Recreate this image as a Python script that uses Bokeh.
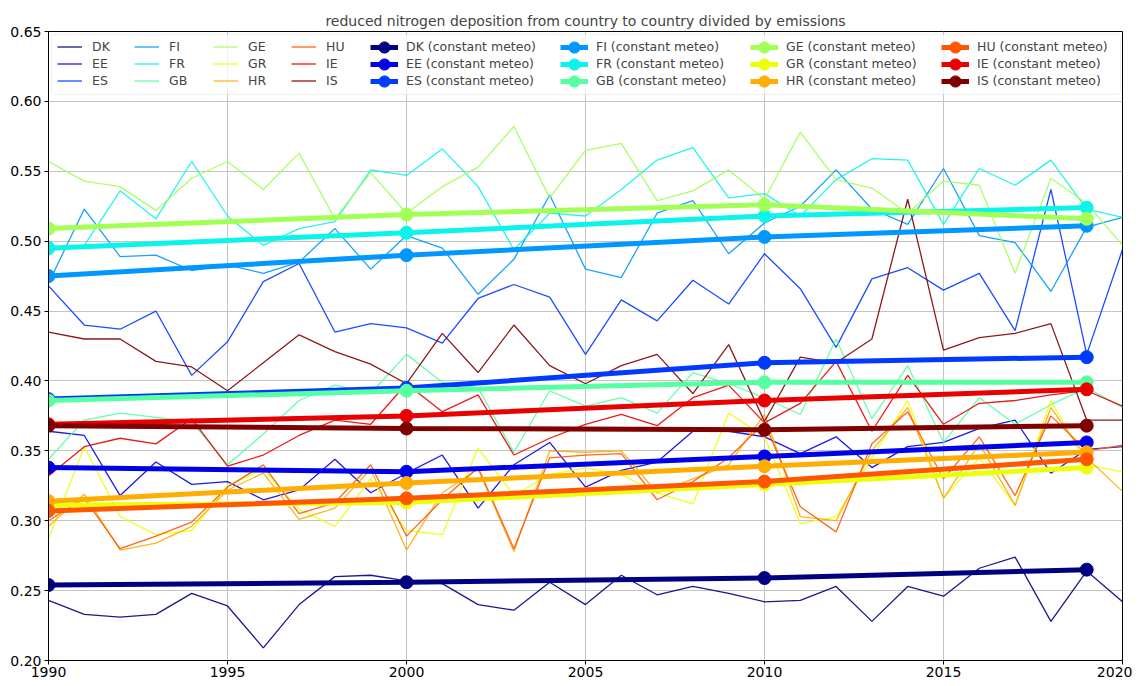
from bokeh.plotting import figure
from bokeh.models import (Legend, LegendItem, FixedTicker, PrintfTickFormatter,
                          BoxAnnotation, Range1d)
from bokeh.embed import file_html
from bokeh.resources import INLINE

years = list(range(1990, 2021))
const_years = [1990, 2000, 2010, 2019]
countries = ["DK", "EE", "ES", "FI", "FR", "GB", "GE", "GR", "HR", "HU", "IE", "IS"]
colors = ["#000080", "#0000e9", "#003aff", "#0097ff", "#0bf4eb", "#56ffa1",
          "#a1ff56", "#ebff0b", "#ffad00", "#ff5700", "#e90000", "#800000"]

DK = [0.243, 0.233, 0.231, 0.233, 0.248, 0.239, 0.209, 0.240, 0.260, 0.261, 0.257, 0.255, 0.240, 0.236, 0.256, 0.240,
      0.261, 0.247, 0.253, 0.248, 0.242, 0.243, 0.253, 0.228, 0.253, 0.246, 0.266, 0.274, 0.228, 0.264, 0.242]
EE = [0.364, 0.361, 0.318, 0.342, 0.326, 0.328, 0.315, 0.322, 0.344, 0.320, 0.334, 0.347, 0.309, 0.340, 0.356, 0.324,
      0.336, 0.342, 0.364, 0.364, 0.360, 0.348, 0.360, 0.338, 0.353, 0.356, 0.366, 0.372, 0.334, 0.351, 0.353]
ES = [0.468, 0.440, 0.437, 0.450, 0.404, 0.428, 0.471, 0.484, 0.435, 0.441, 0.438, 0.427, 0.459, 0.469, 0.460, 0.419,
      0.458, 0.443, 0.472, 0.455, 0.491, 0.466, 0.424, 0.473, 0.481, 0.465, 0.477, 0.436, 0.537, 0.419, 0.494]
FI = [0.470, 0.523, 0.489, 0.490, 0.479, 0.483, 0.477, 0.485, 0.509, 0.480, 0.504, 0.495, 0.462, 0.487, 0.533, 0.480,
      0.474, 0.520, 0.529, 0.491, 0.513, 0.525, 0.551, 0.523, 0.512, 0.552, 0.504, 0.499, 0.464, 0.510, 0.517]
FR = [0.495, 0.497, 0.536, 0.516, 0.557, 0.518, 0.497, 0.509, 0.514, 0.551, 0.547, 0.566, 0.539, 0.494, 0.520, 0.518,
      0.537, 0.558, 0.567, 0.531, 0.534, 0.518, 0.544, 0.559, 0.558, 0.512, 0.552, 0.540, 0.558, 0.523, 0.517]
GB = [0.344, 0.372, 0.377, 0.374, 0.371, 0.340, 0.362, 0.386, 0.397, 0.391, 0.419, 0.399, 0.395, 0.349, 0.393, 0.382,
      0.388, 0.377, 0.406, 0.398, 0.388, 0.376, 0.430, 0.373, 0.411, 0.356, 0.388, 0.369, 0.383, 0.395, 0.381]
GE = [0.557, 0.543, 0.539, 0.522, 0.545, 0.557, 0.537, 0.563, 0.516, 0.549, 0.520, 0.539, 0.553, 0.582, 0.531, 0.565,
      0.570, 0.529, 0.536, 0.551, 0.530, 0.578, 0.544, 0.538, 0.520, 0.543, 0.540, 0.477, 0.545, 0.527, 0.497]
GR = [0.287, 0.353, 0.303, 0.290, 0.293, 0.325, 0.337, 0.308, 0.296, 0.330, 0.293, 0.290, 0.352, 0.318, 0.333, 0.338,
      0.333, 0.320, 0.312, 0.377, 0.360, 0.298, 0.303, 0.345, 0.386, 0.316, 0.345, 0.311, 0.386, 0.340, 0.335]
HR = [0.296, 0.319, 0.279, 0.284, 0.296, 0.322, 0.334, 0.301, 0.309, 0.337, 0.279, 0.320, 0.337, 0.278, 0.350, 0.349,
      0.350, 0.320, 0.330, 0.340, 0.376, 0.303, 0.300, 0.350, 0.381, 0.316, 0.355, 0.311, 0.381, 0.345, 0.321]
HU = [0.300, 0.316, 0.280, 0.289, 0.299, 0.324, 0.340, 0.305, 0.313, 0.340, 0.289, 0.315, 0.338, 0.280, 0.345, 0.347,
      0.348, 0.315, 0.328, 0.345, 0.370, 0.310, 0.292, 0.355, 0.378, 0.330, 0.360, 0.318, 0.375, 0.350, 0.354]
IE = [0.332, 0.353, 0.359, 0.355, 0.373, 0.339, 0.347, 0.361, 0.372, 0.369, 0.398, 0.378, 0.390, 0.347, 0.359, 0.369,
      0.376, 0.368, 0.388, 0.397, 0.370, 0.384, 0.414, 0.364, 0.404, 0.369, 0.384, 0.386, 0.390, 0.393, 0.382]
IS = [0.435, 0.430, 0.430, 0.414, 0.410, 0.393, 0.413, 0.433, 0.421, 0.412, 0.398, 0.434, 0.406, 0.440, 0.411, 0.398,
      0.411, 0.419, 0.391, 0.426, 0.371, 0.417, 0.413, 0.430, 0.530, 0.422, 0.431, 0.434, 0.441, 0.372, 0.372]

DK_c = [0.254, 0.256, 0.259, 0.265]
EE_c = [0.338, 0.335, 0.346, 0.356]
ES_c = [0.387, 0.395, 0.413, 0.417]
FI_c = [0.475, 0.490, 0.503, 0.511]
FR_c = [0.495, 0.506, 0.518, 0.524]
GB_c = [0.386, 0.393, 0.399, 0.399]
GE_c = [0.509, 0.519, 0.526, 0.516]
GR_c = [0.311, 0.313, 0.326, 0.338]
HR_c = [0.314, 0.327, 0.339, 0.349]
HU_c = [0.307, 0.316, 0.328, 0.344]
IE_c = [0.369, 0.375, 0.386, 0.394]
IS_c = [0.368, 0.366, 0.365, 0.368]

series = [DK, EE, ES, FI, FR, GB, GE, GR, HR, HU, IE, IS]
const_series = [DK_c, EE_c, ES_c, FI_c, FR_c, GB_c, GE_c, GR_c, HR_c, HU_c, IE_c, IS_c]

title = "reduced nitrogen deposition from country to country divided by emissions"
FONT = "DejaVu Sans"
FW, FH = 1074, 629
LEFT = 48

p = figure(frame_width=FW, frame_height=FH, x_range=Range1d(1990, 2020), y_range=Range1d(0.20, 0.65),
           output_backend="svg", toolbar_location=None, min_border_left=LEFT, min_border_right=10,
           min_border_top=31, min_border_bottom=0, title=title)
p.title.text_font = FONT
p.title.text_font_size = "14px"
p.title.text_font_style = "normal"
p.title.align = "center"
p.title.standoff = 5
p.background_fill_color = "white"
p.border_fill_color = "white"
p.outline_line_color = "black"
p.outline_line_width = 1
p.outline_line_alpha = 1

p.xaxis.ticker = FixedTicker(ticks=list(range(1990, 2021, 5)))
p.yaxis.ticker = FixedTicker(ticks=[0.20, 0.25, 0.30, 0.35, 0.40, 0.45, 0.50, 0.55, 0.60, 0.65])
p.yaxis.formatter = PrintfTickFormatter(format="%.2f")
for ax in (p.xaxis, p.yaxis):
    ax.major_label_text_font = FONT
    ax.major_label_text_font_size = "14px"
    ax.major_label_text_color = "black"
    ax.major_tick_out = 4
    ax.major_tick_in = 0
    ax.minor_tick_line_color = None
    ax.axis_line_color = "black"
    ax.major_tick_line_color = "black"
    ax.major_label_standoff = 3
p.xaxis.major_label_standoff = 2
p.grid.grid_line_color = "#c4c4c4"
p.grid.grid_line_width = 1

thin_r = []
for ys, col in zip(series, colors):
    thin_r.append(p.line(years, ys, line_color=col, line_width=1.3, line_alpha=0.9))

const_r = []
for ys, col in zip(const_series, colors):
    l = p.line(const_years, ys, line_color=col, line_width=5)
    s = p.scatter(const_years, ys, size=13, fill_color=col, line_color=col)
    const_r.append([l, s])


# legend frame (data coordinates derived from the frame geometry)
def xd(px):
    return 1990 + (px - LEFT) / FW * 30


def yd(off):
    return 0.65 - off / FH * 0.45


box = BoxAnnotation(left=xd(51), right=xd(1120), top=yd(3), bottom=yd(63),
                    fill_color="white", fill_alpha=0.8, line_color="#cccccc", line_width=1,
                    border_radius=3)
p.add_layout(box)

row_off = [15.5, 32.5, 49.5]
thin_x = [57, 134, 213, 291]
const_x = [370, 560, 750, 941]
for i in range(4):
    items = [LegendItem(label=countries[3 * i + j], renderers=[thin_r[3 * i + j]]) for j in range(3)]
    leg = Legend(items=items, location=(thin_x[i] - LEFT, FH - 7 - 51), padding=0, spacing=0, margin=0,
                 glyph_width=25, glyph_height=17, label_height=17, label_standoff=10,
                 label_text_font=FONT, label_text_font_size="12.5px",
                 border_line_alpha=0, background_fill_alpha=0)
    p.add_layout(leg)
for i in range(4):
    for j in range(3):
        k = 3 * i + j
        item = LegendItem(label=countries[k] + " (constant meteo)", renderers=const_r[k])
        leg = Legend(items=[item], location=(const_x[i] - LEFT, FH - row_off[j] - 16),
                     padding=0, spacing=0, margin=0,
                     glyph_width=28, glyph_height=32, label_height=32, label_standoff=8,
                     label_text_font=FONT, label_text_font_size="12.5px",
                     border_line_alpha=0, background_fill_alpha=0)
        p.add_layout(leg)

open("out.html", "w").write(file_html(p, INLINE))
